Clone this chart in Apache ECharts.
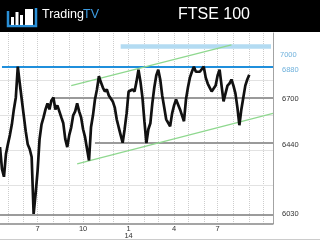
<!DOCTYPE html>
<html><head><meta charset="utf-8">
<script src="https://cdn.jsdelivr.net/npm/echarts@6/dist/echarts.min.js"></script>
<style>html,body{margin:0;padding:0;background:#fff;}#c{width:320px;height:240px;}</style>
</head><body><div id="c"></div><script>
const title = 'FTSE 100';
const brandA = 'Trading';
const brandB = 'TV';
const dates = ['2013-04-17','2013-04-21','2013-04-25','2013-04-29','2013-05-03','2013-05-07','2013-05-11','2013-05-15','2013-05-19','2013-05-23','2013-05-27','2013-05-31','2013-06-04','2013-06-08','2013-06-12','2013-06-16','2013-06-20','2013-06-24','2013-06-28','2013-07-02','2013-07-06','2013-07-10','2013-07-14','2013-07-18','2013-07-22','2013-07-26','2013-07-30','2013-08-03','2013-08-07','2013-08-11','2013-08-15','2013-08-19','2013-08-23','2013-08-27','2013-08-31','2013-09-04','2013-09-08','2013-09-12','2013-09-16','2013-09-20','2013-09-24','2013-09-28','2013-10-02','2013-10-06','2013-10-10','2013-10-14','2013-10-18','2013-10-22','2013-10-26','2013-10-30','2013-11-03','2013-11-07','2013-11-11','2013-11-15','2013-11-19','2013-11-23','2013-11-27','2013-12-01','2013-12-05','2013-12-09','2013-12-13','2013-12-17','2013-12-21','2013-12-25','2013-12-29','2014-01-02','2014-01-06','2014-01-10','2014-01-14','2014-01-18','2014-01-22','2014-01-26','2014-01-30','2014-02-03','2014-02-07','2014-02-11','2014-02-15','2014-02-19','2014-02-23','2014-02-27','2014-03-03','2014-03-07','2014-03-11','2014-03-15','2014-03-19','2014-03-23','2014-03-27','2014-03-31','2014-04-04','2014-04-08','2014-04-12','2014-04-16','2014-04-20','2014-04-24','2014-04-28','2014-05-02','2014-05-06','2014-05-10','2014-05-14','2014-05-18','2014-05-22','2014-05-26','2014-05-30','2014-06-03','2014-06-07','2014-06-11','2014-06-15','2014-06-19','2014-06-23','2014-06-27','2014-07-01','2014-07-05','2014-07-09','2014-07-13','2014-07-17','2014-07-21','2014-07-25','2014-07-29','2014-08-02','2014-08-06','2014-08-10','2014-08-14','2014-08-18','2014-08-22','2014-08-26','2014-08-30','2014-09-03','2014-09-07','2014-09-11','2014-09-15','2014-09-19','2014-09-23','2014-09-27','2014-10-01','2014-10-05','2014-10-09','2014-10-13','2014-10-17','2014-10-21'];
const prices = [6417,6291,6246,6377,6434,6486,6548,6634,6703,6880,6783,6691,6600,6508,6434,6406,6360,6032,6148,6280,6463,6548,6588,6634,6669,6634,6686,6703,6634,6657,6623,6588,6554,6463,6417,6486,6531,6600,6623,6669,6623,6588,6520,6474,6406,6340,6531,6600,6691,6749,6825,6790,6760,6737,6749,6714,6703,6680,6646,6577,6531,6486,6442,6520,6611,6737,6737,6749,6737,6794,6863,6794,6703,6566,6440,6520,6554,6669,6760,6829,6863,6806,6714,6646,6577,6566,6537,6611,6657,6691,6680,6634,6600,6566,6691,6760,6817,6851,6880,6851,6840,6851,6840,6880,6817,6783,6760,6737,6726,6771,6829,6863,6771,6680,6726,6771,6783,6806,6771,6726,6646,6543,6634,6703,6771,6806,6834];
const yMin = 5977;
const yMax = 7074;
const monthGridDates = ['2013-05-03','2013-06-04','2013-07-02','2013-08-03','2013-09-04','2013-10-02','2013-11-03','2013-12-01','2014-01-02','2014-02-03','2014-03-03','2014-04-04','2014-05-02','2014-06-03','2014-07-01','2014-08-02','2014-09-03','2014-10-01'];
const xTickDates = ['2013-07-02','2013-10-02','2014-01-02','2014-04-04','2014-07-01'];
const xTickLabels = ['7','10','1\n14','4','7'];
const yGridValues = [6200,6400,6600,6800];
const levelValues = [7000,6880,6700,6440,6030];
const levelStarts = ['2013-12-17','2013-04-21','2013-08-03','2013-10-26','2013-04-17'];
const levelEnds = ['2014-10-17','2014-10-21','2014-10-21','2014-10-21','2014-10-21'];
const upperTrend = [['2013-09-08',6771],['2014-07-29',7006]];
const lowerTrend = [['2013-09-20',6320],['2014-10-21',6611]];

const levelStyles = [
  {line:{color:'#b3dbf2',width:4.5}, text:'#6fb1dc', off:[0,9]},
  {line:{color:'#1f8fdc',width:2}, text:'#6fb1dc', off:[0,3]},
  {line:{color:'#9a9a9a',width:2}, text:'#333', off:[0,1]},
  {line:{color:'#9a9a9a',width:2}, text:'#333', off:[0,2]},
  {line:{color:'#7a7a7a',width:1.5}, text:'#333', off:[0,0]}
];

const chart = echarts.init(document.getElementById('c'), null, {renderer:'canvas'});
const firstDate = dates[0], lastDate = dates[dates.length-1];
const markData = yGridValues.map(v=>[
  {coord:[firstDate, v], lineStyle:{color:'#e2e2e2', type:'solid', width:1}, label:{show:false}},
  {coord:[lastDate, v]}
]);
levelValues.forEach((v,i)=>markData.push([
  {coord:[levelStarts[i], v], lineStyle:Object.assign({type:'solid'}, levelStyles[i].line),
   label:{show:true, position:'end', distance:9, offset:levelStyles[i].off, formatter:String(v), color:levelStyles[i].text, fontSize:7.5, fontFamily:'Liberation Sans'}},
  {coord:[levelEnds[i], v]}
]));
[upperTrend, lowerTrend].forEach(t=>{
  markData.push([{coord:t[0], lineStyle:{color:'#8fd88f', width:1.3, type:'solid'}, label:{show:false}}, {coord:t[1]}]);
});

chart.setOption({
  animation:false,
  backgroundColor:'#fff',
  grid:{left:0, right:47, top:33, bottom:15, containLabel:false},
  xAxis:{
    type:'category', data:dates, boundaryGap:false,
    axisLine:{show:true, onZero:false, lineStyle:{color:'#888', width:1.5}},
    axisTick:{show:false},
    splitLine:{show:true, interval:(i,v)=>monthGridDates.indexOf(v)>=0, lineStyle:{color:'#cdcdcd', type:'dotted', width:1}},
    axisLabel:{show:true, interval:(i,v)=>xTickDates.indexOf(v)>=0, formatter:(v)=>xTickLabels[xTickDates.indexOf(v)], color:'#333', fontSize:7.5, lineHeight:7, margin:2, fontFamily:'Liberation Sans'}
  },
  yAxis:{
    type:'value', position:'right', min:yMin, max:yMax,
    axisLine:{show:true, lineStyle:{color:'#999', type:'dotted', width:1}},
    axisTick:{show:false},
    axisLabel:{show:false},
    splitLine:{show:false}
  },
  series:[
    {type:'line', data:[], z:1, silent:true,
     markLine:{symbol:['none','none'], silent:true, animation:false, data:markData}},
    {type:'line', z:5, data:prices, showSymbol:false, symbol:'none',
     lineStyle:{color:'#111', width:2.7}, silent:true}
  ],
  graphic:[
    {type:'rect', shape:{x:0,y:0,width:320,height:32}, style:{fill:'#000'}, z:10},
    {type:'text', x:214, y:15, style:{text:title, fill:'#fff', font:'16px "Liberation Sans"', textAlign:'center', textVerticalAlign:'middle'}, z:11},
    {type:'text', x:42, y:15, style:{text:brandA, fill:'#fff', font:'12.5px "Liberation Sans"', textAlign:'left', textVerticalAlign:'middle'}, z:11},
    {type:'text', x:83, y:15, style:{text:brandB, fill:'#3d9be0', font:'12.5px "Liberation Sans"', textAlign:'left', textVerticalAlign:'middle'}, z:11},
    {type:'polyline', shape:{points:[[8,11],[8,26],[36,26],[36,8]]}, style:{stroke:'#2a8fd6', lineWidth:2.5, fill:null}, z:11},
    {type:'rect', shape:{x:11,y:17,width:3,height:8}, style:{fill:'#fff'}, z:11},
    {type:'rect', shape:{x:15.5,y:12,width:3,height:13}, style:{fill:'#fff'}, z:11},
    {type:'rect', shape:{x:20,y:15,width:3,height:10}, style:{fill:'#fff'}, z:11},
    {type:'rect', shape:{x:25,y:9,width:8,height:16}, style:{fill:'#fff'}, z:11},
    {type:'line', shape:{x1:0,y1:239.5,x2:320,y2:239.5}, style:{stroke:'#ccc', lineWidth:1}, z:11}
  ]
});
</script></body></html>
